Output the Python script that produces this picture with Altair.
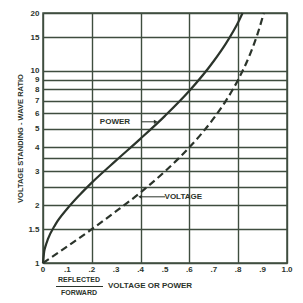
import altair as alt
import pandas as pd

# Power curve (solid): reflected/forward power ratio vs VSWR
power_x = [0, 0.005, 0.01, 0.02, 0.05, 0.1, 0.15, 0.2, 0.3, 0.4, 0.5, 0.6, 0.7, 0.75, 0.8, 0.818]
power_y = [1, 1.15, 1.22, 1.33, 1.58, 1.92, 2.26, 2.62, 3.42, 4.44, 5.83, 7.87, 11.25, 13.9, 17.9, 20]
# Voltage curve (dashed)
volt_x = [0, 0.1, 0.2, 0.3, 0.4, 0.5, 0.6, 0.7, 0.75, 0.8, 0.85, 0.88, 0.9, 0.905]
volt_y = [1, 1.22, 1.5, 1.86, 2.33, 3.0, 4.0, 5.67, 7.0, 9.0, 12.33, 15.67, 19.0, 20]

x_ticks = [0, 0.1, 0.2, 0.3, 0.4, 0.5, 0.6, 0.7, 0.8, 0.9, 1.0]
x_labels = ["0", ".1", ".2", ".3", ".4", ".5", ".6", ".7", ".8", ".9", "1.0"]
y_grid = [1, 1.5, 2, 2.5, 3, 3.5, 4, 5, 6, 7, 8, 9, 10, 15, 20]

INK = "#2b342b"
GRID = "#3f4d3f"
FONT = "Liberation Sans"

df = pd.concat([
    pd.DataFrame({"x": power_x, "y": power_y, "s": "POWER"}),
    pd.DataFrame({"x": volt_x, "y": volt_y, "s": "VOLTAGE"}),
])

xs = alt.Scale(domain=[0, 1], nice=False, zero=False)
ys = alt.Scale(type="log", domain=[1, 20], nice=False)

xaxis = alt.Axis(values=x_ticks, grid=True, gridColor=GRID, gridWidth=1.4, gridOpacity=1,
                 domain=False, ticks=False, labels=False, title=None)
yaxis = alt.Axis(values=y_grid, grid=True, gridColor=GRID, gridWidth=1.4, gridOpacity=1,
                 domain=False, ticks=False, labelPadding=4, labelFont=FONT, labelFontSize=8,
                 labelFontWeight="bold", labelColor=INK, labelOverlap=False,
                 labelExpr="datum.value == 2.5 || datum.value == 3.5 ? '' : '' + datum.value",
                 title="VOLTAGE STANDING - WAVE RATIO", titleFont=FONT, titleFontSize=7.5,
                 titleFontWeight="bold", titleColor=INK, titlePadding=3)

base = alt.Chart(df)
power = base.transform_filter("datum.s == 'POWER'").mark_line(color=INK, strokeWidth=2.2, interpolate="monotone").encode(
    x=alt.X("x:Q", scale=xs, axis=xaxis), y=alt.Y("y:Q", scale=ys, axis=yaxis), order="x:Q")
volt = base.transform_filter("datum.s == 'VOLTAGE'").mark_line(color=INK, strokeWidth=2.2, strokeDash=[7, 4], interpolate="monotone").encode(
    x=alt.X("x:Q", scale=xs), y=alt.Y("y:Q", scale=ys), order="x:Q")

# x tick labels as text layer
xl = alt.Chart(pd.DataFrame({"v": x_ticks, "t": x_labels})).mark_text(
    font=FONT, fontSize=8, fontWeight="bold", color=INK, baseline="top", dy=3).encode(
    x=alt.X("v:Q", scale=xs), y=alt.value(250), text="t:N")

# annotations
ann_text = pd.DataFrame({"x": [0.295, 0.575], "y": [5.43, 2.21], "t": ["POWER", "VOLTAGE"]})
ann_lines = pd.DataFrame({"x": [0.405, 0.50], "x2": [0.46, 0.40], "y": [5.43, 2.21]})
ann_heads = pd.DataFrame({"x": [0.462, 0.398], "y": [5.43, 2.21], "shape": ["triangle-right", "triangle-left"]})

texts = alt.Chart(ann_text).mark_text(font=FONT, fontSize=8, fontWeight="bold", color=INK).encode(
    x=alt.X("x:Q", scale=xs), y=alt.Y("y:Q", scale=ys), text="t:N")
lines = alt.Chart(ann_lines).mark_rule(color=INK, strokeWidth=1).encode(
    x=alt.X("x:Q", scale=xs), x2="x2:Q", y=alt.Y("y:Q", scale=ys))
heads = alt.Chart(ann_heads).mark_point(filled=True, color=INK, size=18, opacity=1).encode(
    x=alt.X("x:Q", scale=xs), y=alt.Y("y:Q", scale=ys),
    shape=alt.Shape("shape:N", scale=None))

# x-axis title as fraction + text (pixel positions relative to plot origin)
xt = pd.DataFrame({"t": ["REFLECTED", "FORWARD", "VOLTAGE  OR  POWER"],
                   "px": [36, 36, 65], "py": [267, 280, 273]})
xtitle_c = alt.Chart(xt.iloc[:2]).mark_text(font=FONT, fontSize=7, fontWeight="bold", color=INK, align="center", baseline="middle").encode(
    x=alt.X("px:Q", scale=None), y=alt.Y("py:Q", scale=None), text="t:N")
xtitle_l = alt.Chart(xt.iloc[2:]).mark_text(font=FONT, fontSize=8, fontWeight="bold", color=INK, align="left", baseline="middle").encode(
    x=alt.X("px:Q", scale=None), y=alt.Y("py:Q", scale=None), text="t:N")
frac = alt.Chart(pd.DataFrame({"a": [13], "b": [60], "c": [273.5]})).mark_rule(color=INK, strokeWidth=1).encode(
    x=alt.X("a:Q", scale=None), x2="b:Q", y=alt.Y("c:Q", scale=None))

chart = alt.layer(power, volt, xl, lines, heads, texts, xtitle_c, xtitle_l, frac).properties(
    width=244, height=250, padding={"left": 43, "top": 13, "right": 16, "bottom": 40},
    autosize=alt.AutoSizeParams(type="none"), background="white"
).configure_view(stroke=GRID, strokeWidth=1.5)

chart.save("out.html", embed_options={"renderer": "svg", "actions": False})
